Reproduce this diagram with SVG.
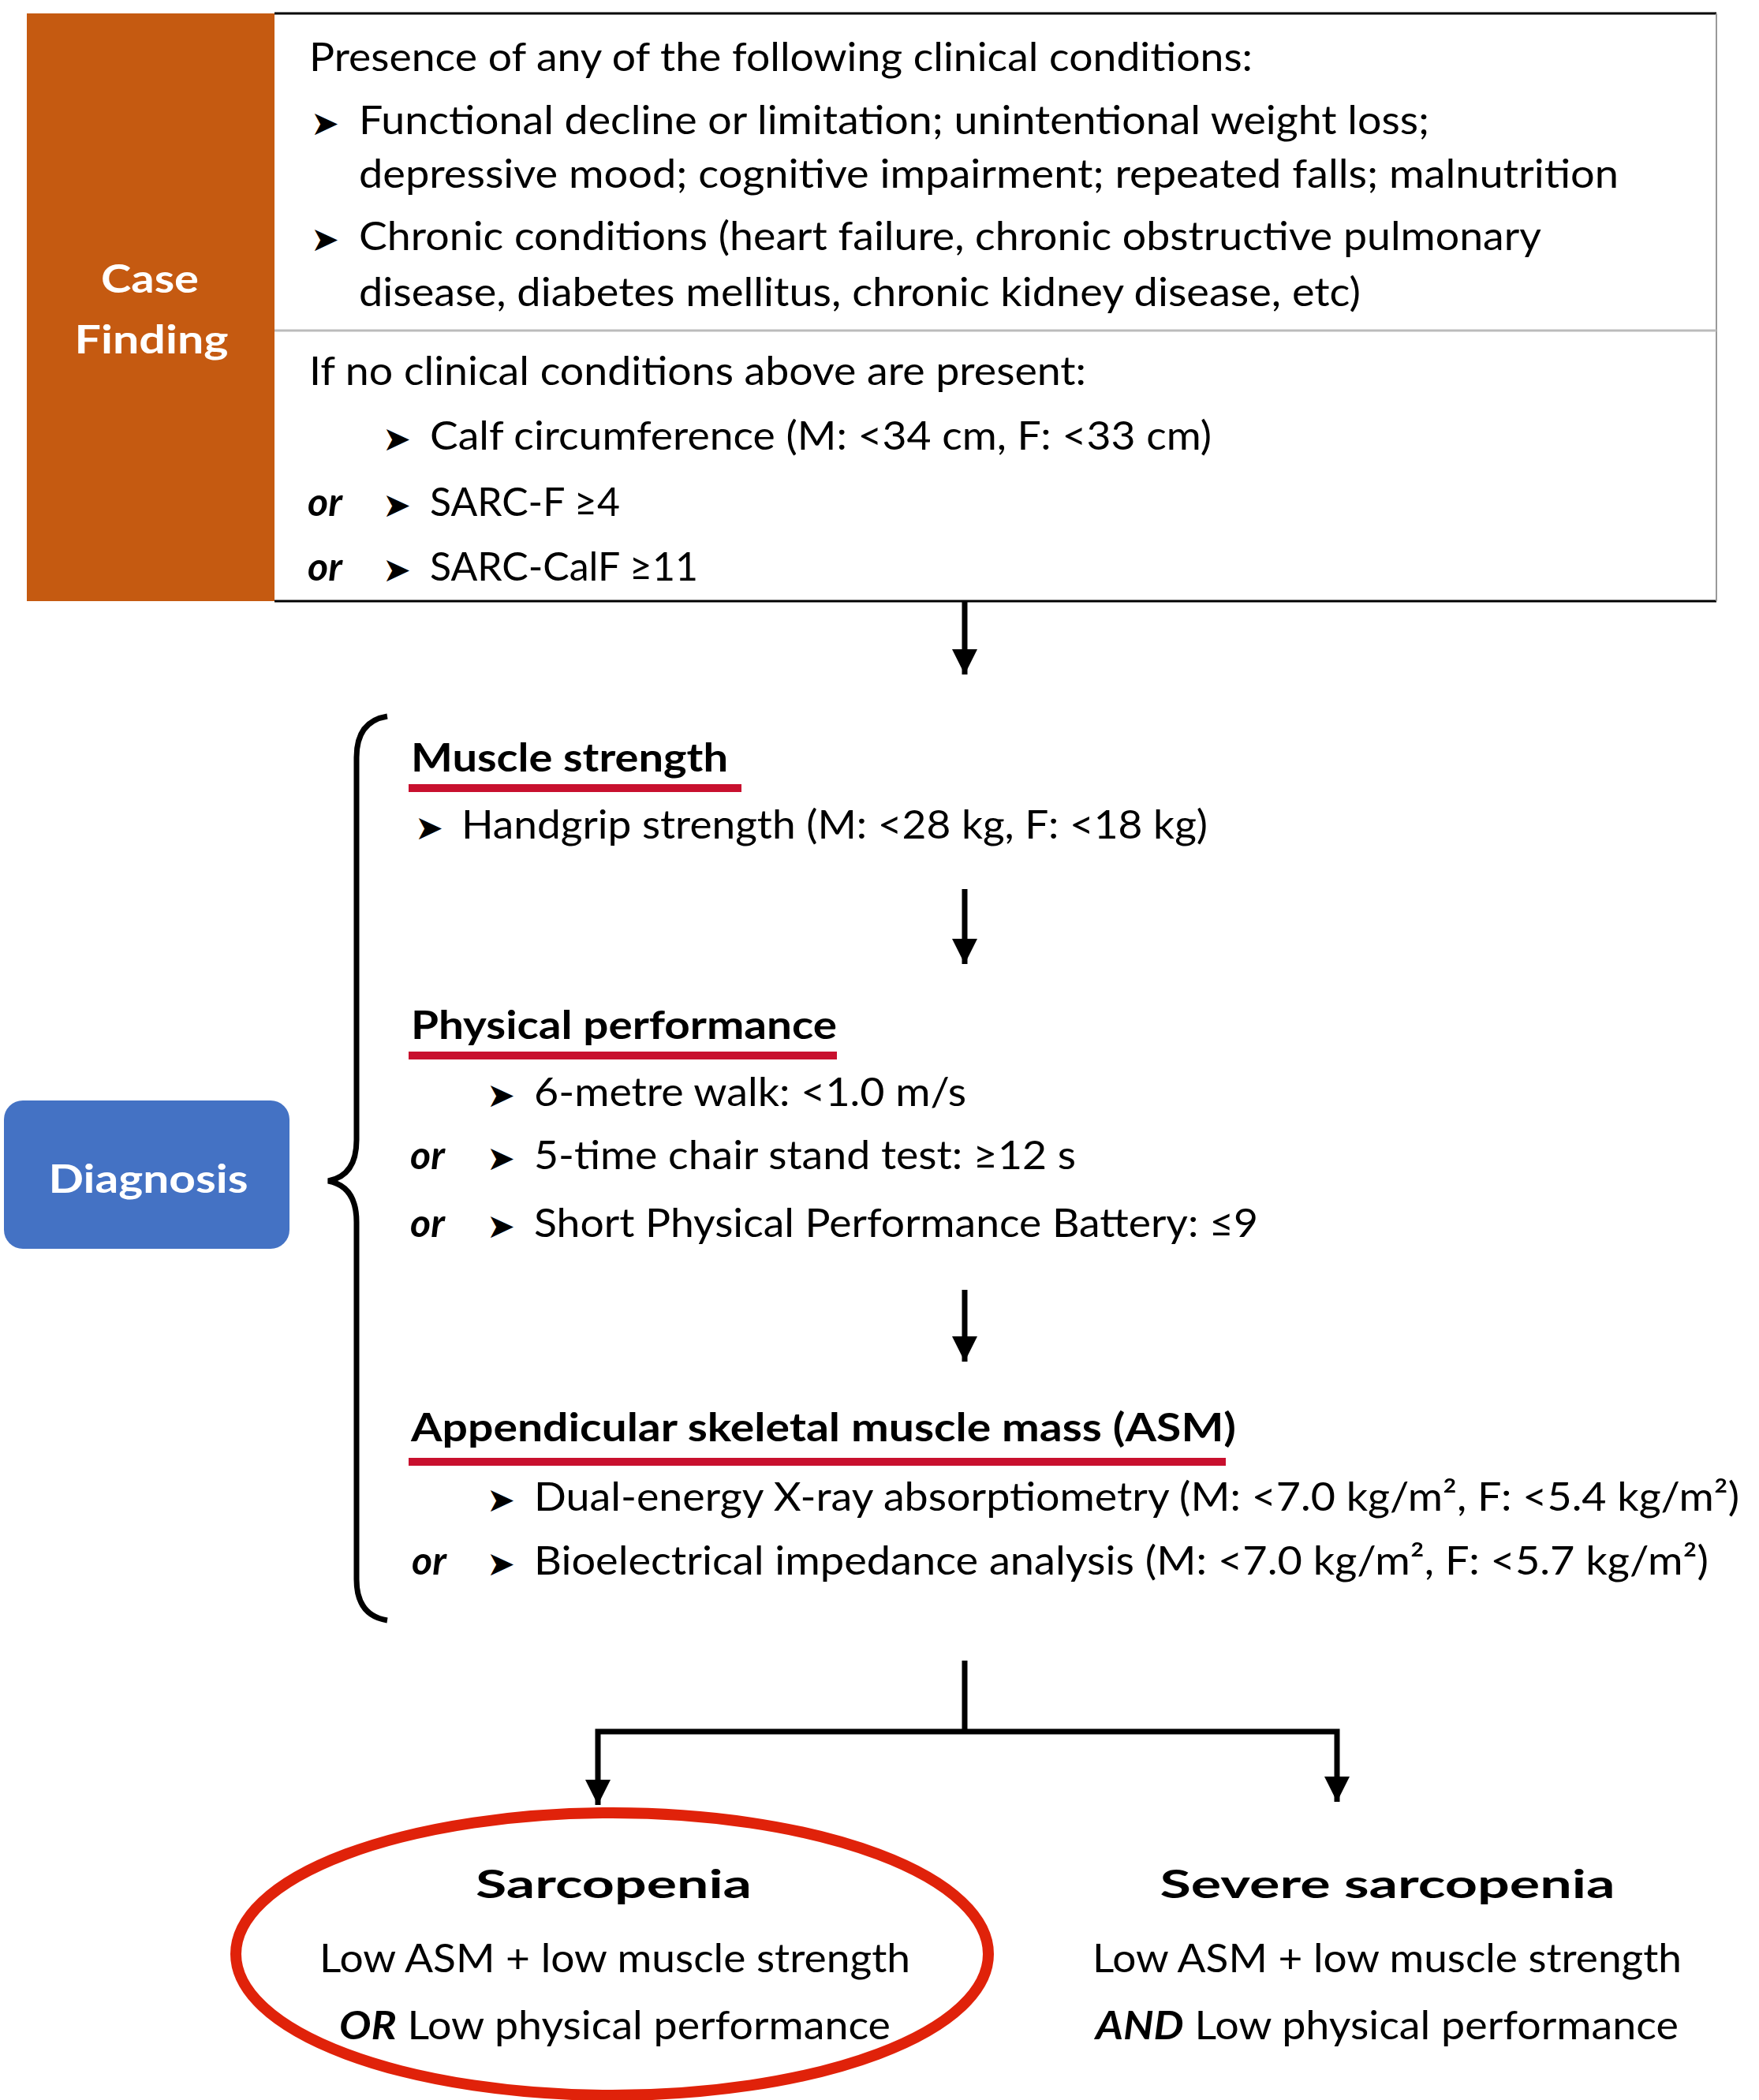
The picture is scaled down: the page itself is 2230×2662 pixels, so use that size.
<svg xmlns="http://www.w3.org/2000/svg" width="2230" height="2662" viewBox="0 0 2230 2662">
<style>
.t{font-family:Lato,'Open Sans',sans-serif;font-size:50px;fill:#000}
.b{font-weight:bold}
.bi{font-weight:bold;font-style:italic}
.bul{font-family:'DejaVu Sans',sans-serif;font-size:43px;fill:#000}
.wh{fill:#fff;font-weight:bold;text-anchor:middle}
.ul{stroke:#C8102E;stroke-width:10}
.con{stroke:#000;stroke-width:7;fill:none}
</style>
<defs>
<marker id="ah" markerUnits="userSpaceOnUse" markerWidth="32" markerHeight="32" refX="32" refY="16" orient="auto" viewBox="0 0 32 32">
<path d="M0,0 L32,16 L0,32 z" fill="#000"/>
</marker>
</defs>
<rect width="2230" height="2662" fill="#fff"/>

<g id="case-finding-label">
<rect x="34" y="17" width="314" height="745" fill="#C55A11"/>
<text class="t wh" x="190" y="371" font-size="58" textLength="124" lengthAdjust="spacingAndGlyphs">Case</text>
<text class="t wh" x="192" y="448" font-size="58" textLength="195" lengthAdjust="spacingAndGlyphs">Finding</text>
</g>

<g id="case-finding-box">
<rect x="348" y="17" width="1828" height="745" fill="#fff" stroke="none"/>
<line x1="348" y1="17" x2="2176" y2="17" stroke="#000" stroke-width="3"/>
<line x1="348" y1="762" x2="2176" y2="762" stroke="#000" stroke-width="3"/>
<line x1="2176" y1="17" x2="2176" y2="762" stroke="#999" stroke-width="2"/>
<line x1="348" y1="419" x2="2176" y2="419" stroke="#bbb" stroke-width="3"/>
<text class="t" x="392" y="90" textLength="1196" lengthAdjust="spacingAndGlyphs">Presence of any of the following clinical conditions:</text>
<text class="bul" x="394" y="171">➤</text>
<text class="t" x="455" y="170" textLength="1357" lengthAdjust="spacingAndGlyphs">Functional decline or limitation; unintentional weight loss;</text>
<text class="t" x="455" y="238" textLength="1597" lengthAdjust="spacingAndGlyphs">depressive mood; cognitive impairment; repeated falls; malnutrition</text>
<text class="bul" x="394" y="318">➤</text>
<text class="t" x="455" y="317" textLength="1499" lengthAdjust="spacingAndGlyphs">Chronic conditions (heart failure, chronic obstructive pulmonary</text>
<text class="t" x="455" y="388" textLength="1270" lengthAdjust="spacingAndGlyphs">disease, diabetes mellitus, chronic kidney disease, etc)</text>
<text class="t" x="392" y="488" textLength="985" lengthAdjust="spacingAndGlyphs">If no clinical conditions above are present:</text>
<text class="bul" x="485" y="571">➤</text>
<text class="t" x="545" y="570" textLength="991" lengthAdjust="spacingAndGlyphs">Calf circumference (M: &lt;34 cm, F: &lt;33 cm)</text>
<text class="t bi" x="390" y="654" font-size="53">or</text>
<text class="bul" x="485" y="655">➤</text>
<text class="t" x="545" y="654" textLength="241" lengthAdjust="spacingAndGlyphs">SARC-F ≥4</text>
<text class="t bi" x="390" y="736" font-size="53">or</text>
<text class="bul" x="485" y="737">➤</text>
<text class="t" x="545" y="736" textLength="340" lengthAdjust="spacingAndGlyphs">SARC-CalF ≥11</text>
</g>

<g id="diagnosis-label">
<rect x="5" y="1395" width="362" height="188" rx="24" ry="24" fill="#4472C4"/>
<text class="t wh" x="188" y="1512" font-size="64" textLength="253" lengthAdjust="spacingAndGlyphs">Diagnosis</text>
</g>

<g id="brace">
<path d="M491,908 C466,912 452,928 452,960 L452,1445 C452,1478 438,1493 416,1497 C438,1501 452,1516 452,1549 L452,2002 C452,2034 466,2050 491,2054" fill="none" stroke="#000" stroke-width="7"/>
</g>

<g id="muscle-strength">
<text class="t b" x="521" y="978" textLength="402" lengthAdjust="spacingAndGlyphs">Muscle strength</text>
<line class="ul" x1="518" y1="999" x2="940" y2="999"/>
<text class="bul" x="526" y="1064">➤</text>
<text class="t" x="585" y="1063" textLength="946" lengthAdjust="spacingAndGlyphs">Handgrip strength (M: &lt;28 kg, F: &lt;18 kg)</text>
</g>

<g id="physical-performance">
<text class="t b" x="521" y="1317" textLength="540" lengthAdjust="spacingAndGlyphs">Physical performance</text>
<line class="ul" x1="518" y1="1338" x2="1061" y2="1338"/>
<text class="bul" x="617" y="1403">➤</text>
<text class="t" x="677" y="1402" textLength="548" lengthAdjust="spacingAndGlyphs">6-metre walk: &lt;1.0 m/s</text>
<text class="t bi" x="520" y="1482" font-size="53">or</text>
<text class="bul" x="617" y="1483">➤</text>
<text class="t" x="677" y="1482" textLength="687" lengthAdjust="spacingAndGlyphs">5-time chair stand test: ≥12 s</text>
<text class="t bi" x="520" y="1568" font-size="53">or</text>
<text class="bul" x="617" y="1569">➤</text>
<text class="t" x="677" y="1568" textLength="918" lengthAdjust="spacingAndGlyphs">Short Physical Performance Battery: ≤9</text>
</g>

<g id="asm">
<text class="t b" x="521" y="1827" textLength="1046" lengthAdjust="spacingAndGlyphs">Appendicular skeletal muscle mass (ASM)</text>
<line class="ul" x1="518" y1="1853" x2="1554" y2="1853"/>
<text class="bul" x="617" y="1916">➤</text>
<text class="t" x="677" y="1915" textLength="1528" lengthAdjust="spacingAndGlyphs">Dual-energy X-ray absorptiometry (M: &lt;7.0 kg/m², F: &lt;5.4 kg/m²)</text>
<text class="t bi" x="522" y="1996" font-size="53">or</text>
<text class="bul" x="617" y="1997">➤</text>
<text class="t" x="677" y="1996" textLength="1489" lengthAdjust="spacingAndGlyphs">Bioelectrical impedance analysis (M: &lt;7.0 kg/m², F: &lt;5.7 kg/m²)</text>
</g>

<g id="sarcopenia">
<ellipse cx="776" cy="2477" rx="477" ry="179" fill="none" stroke="#E0220A" stroke-width="14"/>
<text class="t b" x="778" y="2406" font-size="66" text-anchor="middle" textLength="350" lengthAdjust="spacingAndGlyphs">Sarcopenia</text>
<text class="t" x="405" y="2500" font-size="48" textLength="749" lengthAdjust="spacingAndGlyphs">Low ASM + low muscle strength</text>
<text class="t" x="430" y="2585" font-size="48" textLength="699" lengthAdjust="spacingAndGlyphs"><tspan class="bi">OR</tspan> Low physical performance</text>
</g>

<g id="severe-sarcopenia">
<text class="t b" x="1759" y="2406" font-size="66" text-anchor="middle" textLength="577" lengthAdjust="spacingAndGlyphs">Severe sarcopenia</text>
<text class="t" x="1385" y="2500" font-size="48" textLength="747" lengthAdjust="spacingAndGlyphs">Low ASM + low muscle strength</text>
<text class="t" x="1389" y="2585" font-size="48" textLength="739" lengthAdjust="spacingAndGlyphs"><tspan class="bi">AND</tspan> Low physical performance</text>
</g>

<g id="connectors">
<line class="con" x1="1223" y1="763" x2="1223" y2="855" marker-end="url(#ah)"/>
<line class="con" x1="1223" y1="1127" x2="1223" y2="1222" marker-end="url(#ah)"/>
<line class="con" x1="1223" y1="1635" x2="1223" y2="1726" marker-end="url(#ah)"/>
<path class="con" d="M1223,2105 L1223,2195"/>
<path class="con" d="M758,2288 L758,2195 L1695,2195 L1695,2284" stroke-linejoin="miter"/>
<path d="M742,2256 L774,2256 L758,2288 z" fill="#000"/>
<path d="M1679,2252 L1711,2252 L1695,2284 z" fill="#000"/>
</g>
</svg>
